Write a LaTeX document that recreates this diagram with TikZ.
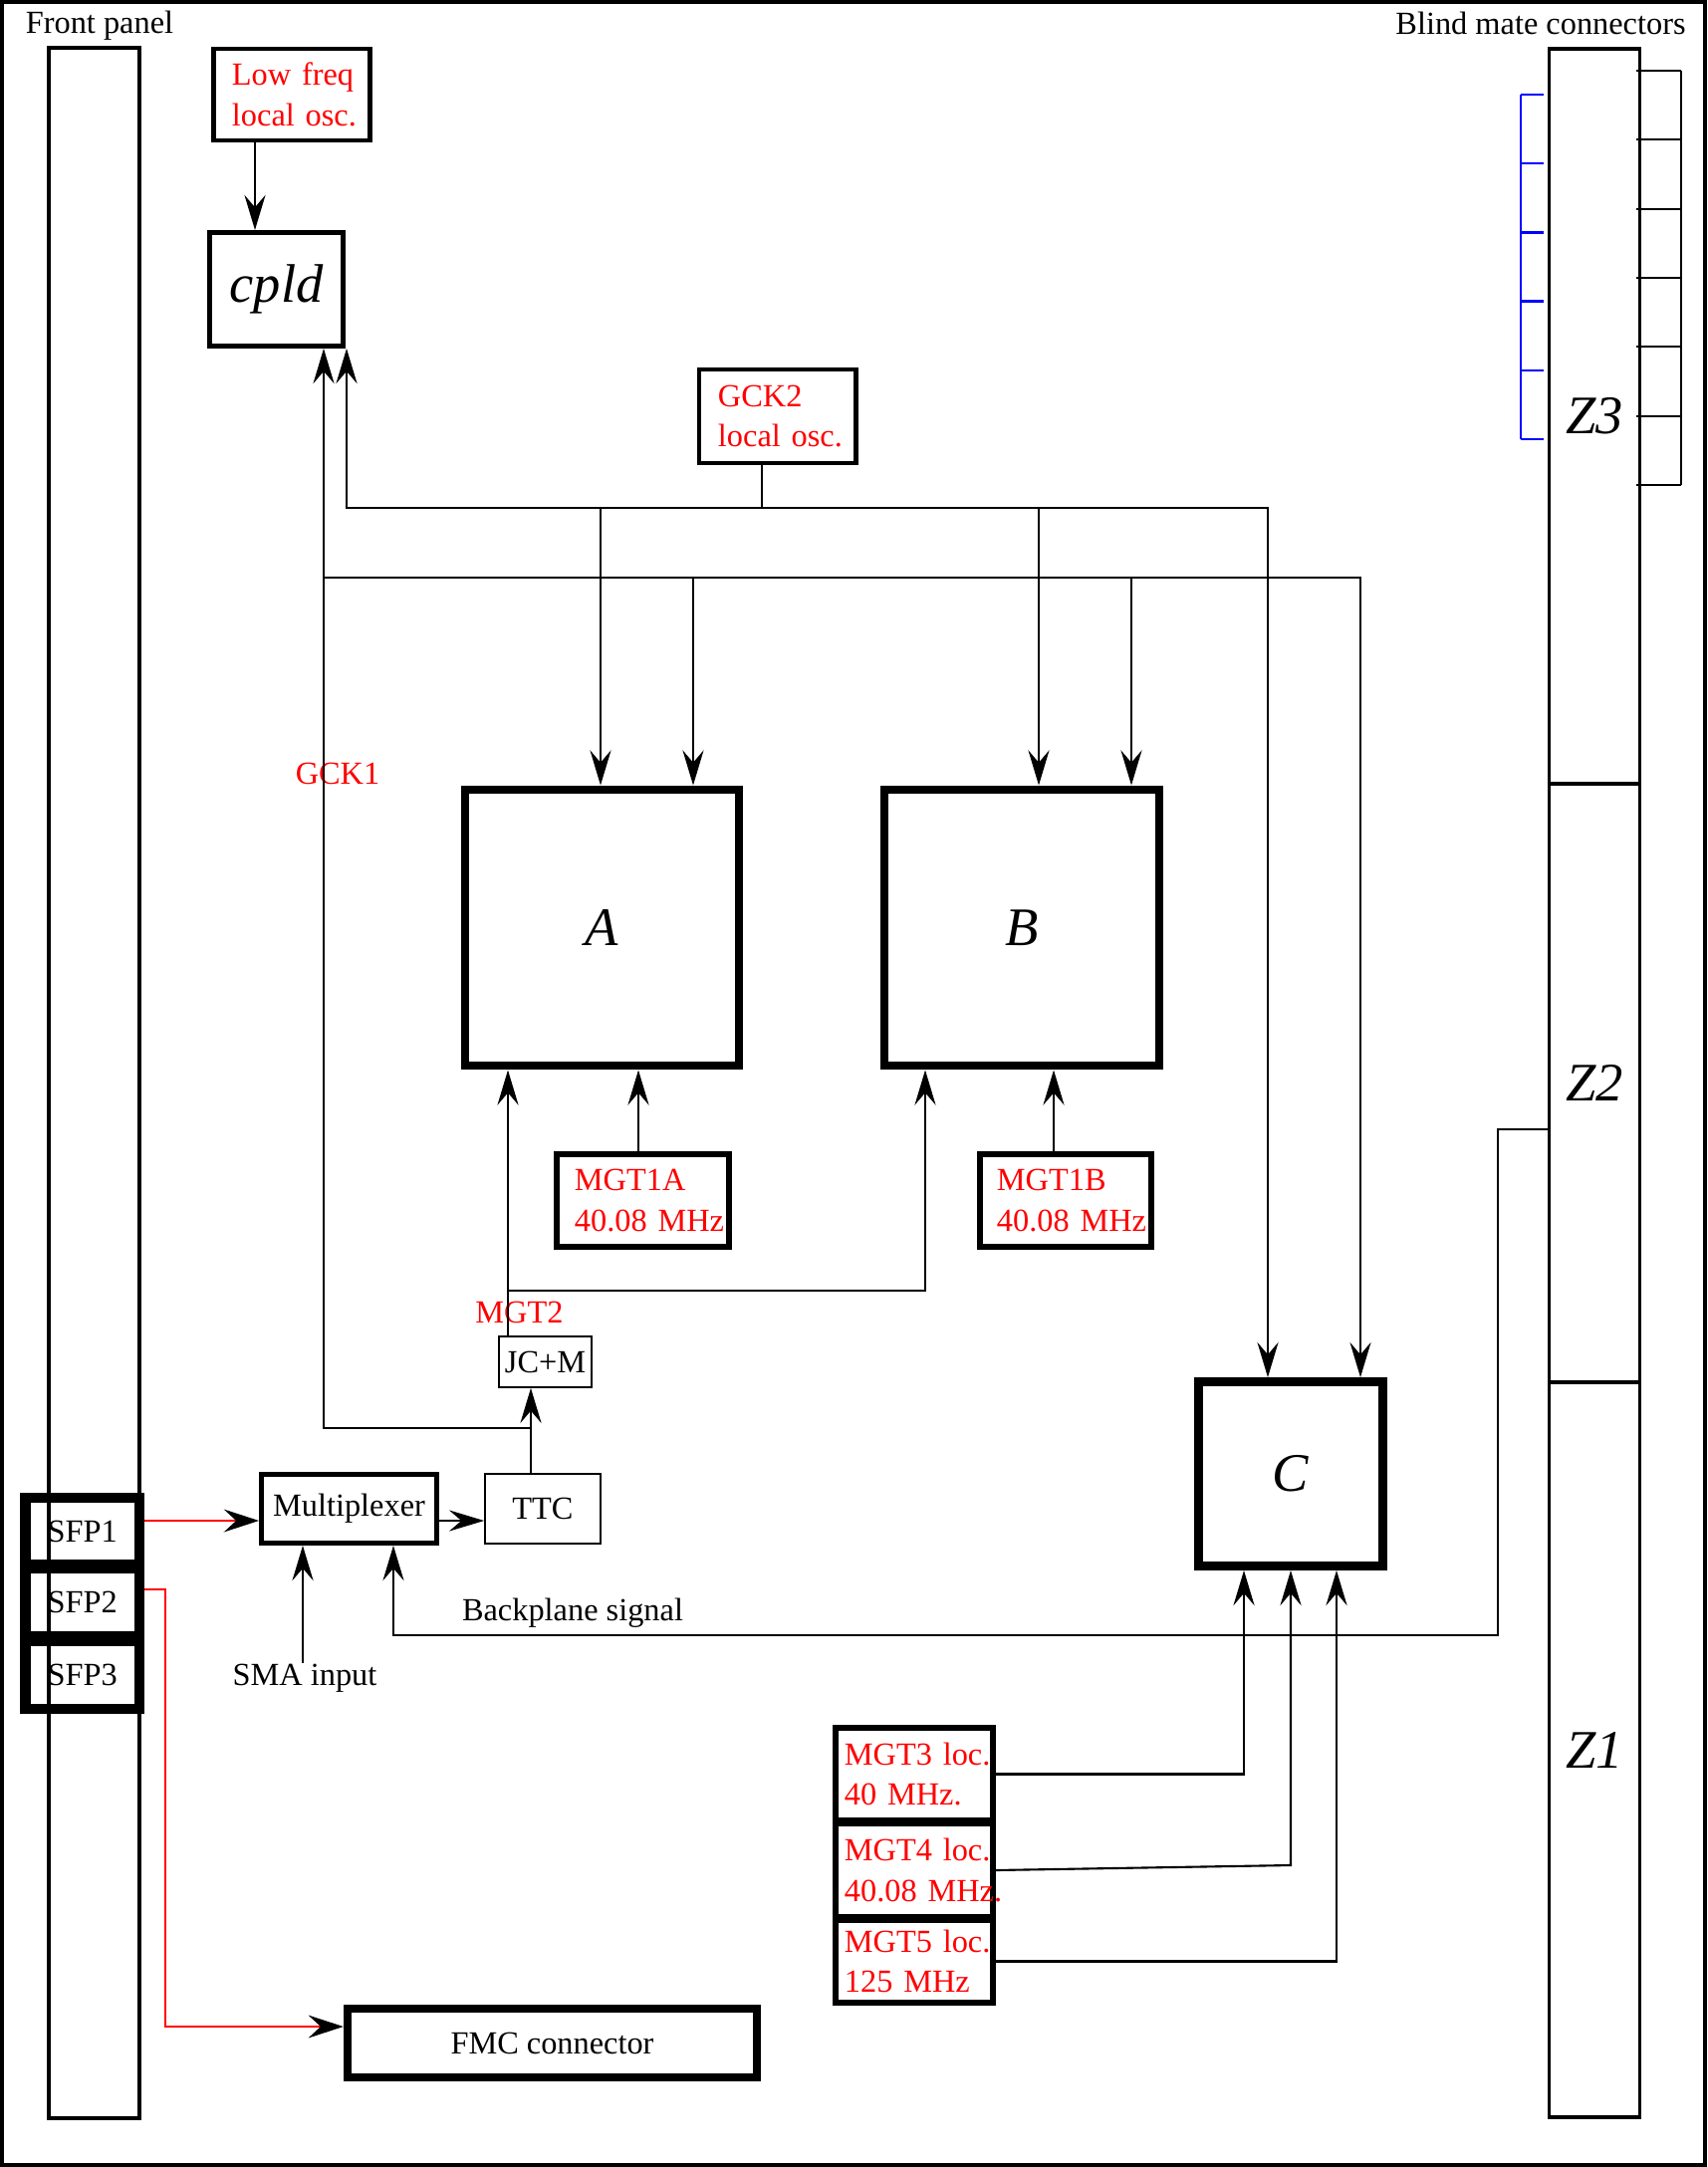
\documentclass[tikz,border=0pt]{standalone}
\usepackage{fontspec}
\setmainfont{Liberation Serif}
\usetikzlibrary{arrows.meta}
\newcommand\txtsize{\fontsize{9.2}{11.6}\selectfont}
\newcommand\bigit{\fontsize{15.5}{18}\selectfont\itshape}

\begin{document}
\begin{tikzpicture}[x=0.01cm,y=-0.01cm,
  sig/.style={line width=0.6pt,-{Stealth[length=10pt,width=6pt,inset=3.5pt]}},
  sfp/.style={red,line width=0.7pt,-{Stealth[length=10pt,width=6.5pt,inset=3.5pt,color=black]}},
  chip/.style={draw,line width=2.5pt,font=\bigit},
  blk/.style={draw,line width=1.4pt,font=\txtsize},
  osc/.style={draw,line width=#1,font=\txtsize,text=red,align=left,inner ysep=0pt},
  thinbox/.style={draw,line width=0.45pt,font=\txtsize},
  sfpbox/.style={draw,line width=3.1pt,font=\txtsize,minimum width=1.145cm},
  zbox/.style={draw,line width=1.1pt,font=\bigit,minimum width=0.91cm},
  lbl/.style={font=\txtsize,inner sep=0pt,anchor=base}]
\useasboundingbox (0,0) rectangle (1714,2176);
\draw[line width=1.2pt] (2,2) rectangle (1712,2174);

\node[lbl] (fptitle) at (100,34) {Front panel};
\node[lbl] (bmtitle) at (1547,35) {Blind mate connectors};
\node[draw,line width=1.1pt,minimum width=0.91cm,minimum height=20.77cm] (panel) at (94.5,1087.5) {};

\node[zbox,minimum height=7.38cm] (zthree) at (1601,418) {Z3};
\node[zbox,minimum height=6.01cm] (ztwo) at (1601,1087.5) {Z2};
\node[zbox,minimum height=7.38cm] (zone) at (1601,1757) {Z1};
\foreach \i in {0,...,6}
    \draw[line width=0.6pt] (1643,{71+69.33*\i}) -- (1688,{71+69.33*\i});
\draw[line width=0.6pt] (1688,71) -- (1688,487);
\draw[blue,line width=0.7pt] (1527,95) -- (1527,441);
\foreach \i in {0,...,5}
    \draw[blue,line width=0.7pt] (1527,{95+69.2*\i}) -- (1550,{95+69.2*\i});

\node[osc=1.4pt,text width=1.2cm,inner xsep=0.18cm,minimum height=0.92cm] (lowosc) at (293,95) {Low~freq\\local~osc.};
\node[blk,font=\bigit,minimum width=1.34cm,minimum height=1.14cm] (cpld) at (277.5,290.5) {cpld};
\node[osc=1.4pt,text width=1.19cm,inner xsep=0.19cm,minimum height=0.94cm] (gcktwo) at (780.5,418) {GCK2\\local~osc.};
\node[chip,minimum width=2.75cm,minimum height=2.77cm] (fpgaA) at (604.5,931.5) {A};
\node[chip,minimum width=2.76cm,minimum height=2.77cm] (fpgaB) at (1026,931.5) {B};
\node[chip,minimum size=1.85cm] (fpgaC) at (1296,1480) {C};
\node[osc=1.7pt,text width=1.37cm,inner xsep=0.18cm,minimum height=0.92cm] (mgtoneA) at (645.5,1205.5) {MGT1A\\40.08~MHz};
\node[osc=1.7pt,text width=1.38cm,inner xsep=0.17cm,minimum height=0.92cm] (mgtoneB) at (1070,1205.5) {MGT1B\\40.08~MHz};
\node[thinbox,minimum width=0.93cm,minimum height=0.51cm,inner sep=0pt] (jcm) at (547.5,1367.5) {JC+M};
\node[thinbox,minimum width=1.16cm,minimum height=0.7cm] (ttc) at (545,1515) {TTC};
\node[blk,minimum width=1.76cm,minimum height=0.69cm,inner sep=0pt] (mux) at (350.5,1515) {Multiplexer};
\node[sfpbox,minimum height=0.67cm] (sfpone) at (82.75,1537.5) {SFP1};
\node[sfpbox,minimum height=0.68cm] (sfptwo) at (82.75,1609) {SFP2};
\node[sfpbox,minimum height=0.68cm] (sfpthree) at (82.75,1682) {SFP3};
\node[osc=1.7pt,text width=1.4cm,inner xsep=0.09cm,minimum height=0.93cm] (mgtthree) at (918,1781.5) {MGT3~loc.\\40~MHz.};
\node[osc=1.7pt,text width=1.4cm,inner xsep=0.09cm,minimum height=0.94cm] (mgtfour) at (918,1878) {MGT4~loc.\\40.08~MHz.};
\node[osc=1.7pt,text width=1.4cm,inner xsep=0.09cm,minimum height=0.83cm] (mgtfive) at (918,1969.5) {MGT5~loc.\\125~MHz};
\node[draw,line width=2.3pt,font=\txtsize,minimum width=4.11cm,minimum height=0.69cm] (fmc) at (554.5,2051.5) {FMC connector};

\node[lbl,text=red] (gckone) at (339,787) {GCK1};
\node[lbl,text=red] (mgttwo) at (521.5,1328) {MGT2};
\node[lbl] (sma) at (306,1692) {SMA input};
\node[lbl] (bpsig) at (575,1627) {Backplane signal};

\coordinate (gtwobus) at (765,510);
\coordinate (gonebus) at (325,580);
\coordinate (gonejoin) at (533,1434);
\coordinate (mgttwobus) at (510,1296);
\coordinate (bpturn) at (1504,1642);

\draw[sig] (lowosc.south -| 256,0) -- (cpld.north -| 256,0);
\draw[sig] (gcktwo.south -| gtwobus) -- (gtwobus) -| (fpgaC.north -| 1273,0);
\draw[sig] (gtwobus) -| (cpld.south -| 348,0);
\foreach \x/\n in {603/fpgaA,1043/fpgaB}
    \draw[sig] (gtwobus -| \x,0) -- (\n.north -| \x,0);
\draw[sig] (ttc.north -| 533,0) -- (jcm.south -| 533,0);
\draw[sig] (gonejoin) -| (cpld.south -| 325,0);
\draw[sig] (gonebus) -| (fpgaC.north -| 1366,0);
\foreach \x/\n in {696/fpgaA,1136/fpgaB}
    \draw[sig] (gonebus -| \x,0) -- (\n.north -| \x,0);
\draw[sig] (jcm.north -| 510,0) -- (fpgaA.south -| 510,0);
\draw[sig] (mgttwobus) -| (fpgaB.south -| 929,0);
\draw[sig] (mgtoneA.north -| 641,0) -- (fpgaA.south -| 641,0);
\draw[sig] (mgtoneB.north -| 1058,0) -- (fpgaB.south -| 1058,0);
\draw[sig] (mux.east |- 0,1527) -- (ttc.west |- 0,1527);
\draw[sfp] (sfpone.east |- 0,1527) -- (mux.west |- 0,1527);
\draw[sfp] (sfptwo.east |- 0,1596) -| (166,2035) -- (fmc.west |- 0,2035);
\draw[sig] (sma.north -| 304,0) -- (mux.south -| 304,0);
\draw[sig] (ztwo.west |- 0,1134) -| (bpturn) -| (mux.south -| 395,0);
\draw[sig] (mgtthree.east) -| (fpgaC.south -| 1249,0);
\draw[sig] (mgtfour.east) -- (1296,1873) -- (fpgaC.south -| 1296,0);
\draw[sig] (mgtfive.east) -| (fpgaC.south -| 1342,0);
\end{tikzpicture}
\end{document}
